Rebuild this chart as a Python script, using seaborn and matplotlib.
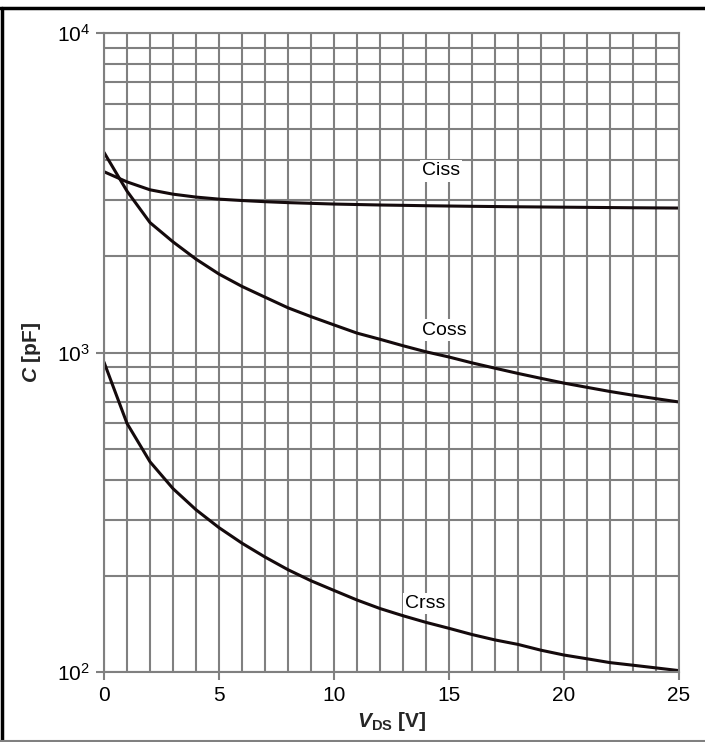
import math
import matplotlib
matplotlib.use("Agg")
import matplotlib.pyplot as plt
import matplotlib.ticker as ticker
from matplotlib.lines import Line2D
import seaborn as sns
import pandas as pd

# values (pF at each volt)
vds = list(range(0, 26))
ciss = [3680, 3420, 3230, 3130, 3065, 3020, 2990, 2965, 2945, 2930, 2915, 2905, 2895,
        2888, 2880, 2874, 2868, 2863, 2858, 2854, 2850, 2846, 2842, 2838, 2835, 2832]
coss = [4230, 3200, 2550, 2220, 1960, 1760, 1610, 1490, 1380, 1295, 1220, 1150, 1100,
        1050, 1005, 968, 928, 893, 860, 830, 802, 778, 755, 735, 717, 700]
crss = [933, 600, 455, 375, 322, 283, 253, 229, 209, 193, 180, 168, 158,
        150, 143, 137, 131, 126, 122, 117, 113, 110, 107, 105, 103, 101]
series = ["Ciss", "Coss", "Crss"]
label_pos = {"Ciss": (14.65, 3700), "Coss": (14.8, 1176), "Crss": (13.96, 164)}

df = pd.DataFrame({"V": vds * 3,
                   "C": ciss + coss + crss,
                   "name": [s for s in series for _ in vds]})

sns.set_theme(style="white")
plt.rcParams['font.family'] = ['Liberation Sans', 'DejaVu Sans']
plt.rcParams['mathtext.fontset'] = 'custom'
plt.rcParams['mathtext.rm'] = 'Liberation Sans'
plt.rcParams['mathtext.it'] = 'Liberation Sans:italic'
plt.rcParams['mathtext.bf'] = 'Liberation Sans:bold'
plt.rcParams['mathtext.bfit'] = 'Liberation Sans:italic:bold'

fig = plt.figure(figsize=(7.05, 7.42), dpi=100)
ax = fig.add_axes([104 / 705, 1 - 672 / 742, 575 / 705, 639 / 742])

grid_c = '#808080'
ax.set_yscale('log')
ax.set_xlim(0, 25)
ax.set_ylim(100, 10000)
ax.xaxis.set_major_locator(ticker.MultipleLocator(5))
ax.xaxis.set_minor_locator(ticker.MultipleLocator(1))
ax.yaxis.set_major_locator(ticker.LogLocator(base=10))
ax.yaxis.set_minor_locator(ticker.LogLocator(base=10, subs=range(2, 10)))
ax.yaxis.set_minor_formatter(ticker.NullFormatter())
ax.yaxis.set_major_formatter(ticker.FuncFormatter(lambda v, p: r'$10^{%d}$' % round(math.log10(v))))
ax.grid(True, which='both', color=grid_c, lw=1.5)
ax.set_axisbelow(True)
for s in ax.spines.values():
    s.set_color(grid_c)
    s.set_linewidth(1.5)
ax.tick_params(which='major', length=6, width=1.5, color=grid_c, labelsize=15,
               labelcolor='black', direction='out', bottom=True, left=True, pad=4)
ax.tick_params(which='minor', length=0)

sns.lineplot(data=df, x="V", y="C", hue="name", palette=['#140a0c'] * 3,
             lw=2.2, legend=False, ax=ax)

for name in series:
    x, y = label_pos[name]
    ax.text(x, y, name, fontsize=14, ha='center', va='center', color='black',
            bbox=dict(facecolor='white', edgecolor='none', pad=1.5))

ax.set_xlabel(r'$\mathbfit{V}_{\mathbf{DS}}$ [V]', fontsize=15, fontweight='bold', labelpad=4)
ax.set_ylabel(r'$\mathbfit{C}$ [pF]', fontsize=15, fontweight='bold', labelpad=10)

# frame around the chart
fig.add_artist(Line2D([0, 1], [1 - 8 / 742] * 2, color='black', lw=2.5))
fig.add_artist(Line2D([2 / 705] * 2, [0, 1 - 8 / 742], color='black', lw=2.5))
fig.add_artist(Line2D([0, 1], [1.5 / 742] * 2, color=grid_c, lw=1.5))

fig.savefig("out.png", dpi=100)
